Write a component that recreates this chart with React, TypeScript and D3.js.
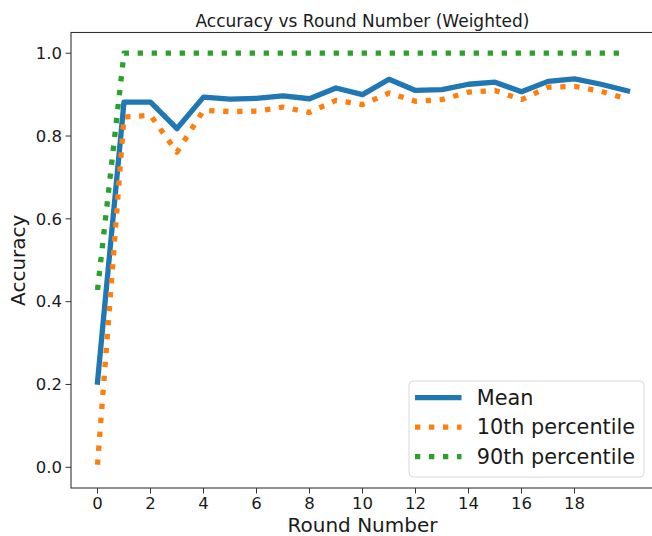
import React from "react";
import * as d3 from "d3";

const rounds = d3.range(0, 21);
const meanAcc = [0.206, 0.882, 0.882, 0.818, 0.894, 0.889, 0.891, 0.897, 0.89, 0.916, 0.9, 0.937, 0.91, 0.912, 0.925, 0.93, 0.907, 0.932, 0.938, 0.925, 0.909];
const p10Acc = [0.006, 0.846, 0.85, 0.761, 0.862, 0.859, 0.86, 0.87, 0.857, 0.886, 0.876, 0.904, 0.884, 0.888, 0.906, 0.91, 0.888, 0.918, 0.92, 0.908, 0.889];
const p90Acc = [0.428, 1, 1, 1, 1, 1, 1, 1, 1, 1, 1, 1, 1, 1, 1, 1, 1, 1, 1, 1, 1];
const xTicks = [0, 2, 4, 6, 8, 10, 12, 14, 16, 18];
const yTicks = [0, 0.2, 0.4, 0.6, 0.8, 1.0];

const series = [
  { name: "Mean", values: meanAcc, color: "#1f77b4", dash: null },
  { name: "10th percentile", values: p10Acc, color: "#ff7f0e", dash: "5.3 8.7" },
  { name: "90th percentile", values: p90Acc, color: "#2ca02c", dash: "5.3 8.7" },
];

const W = 652;
const H = 536;
const font = "DejaVu Sans, sans-serif";
const ink = "#1a1a1a";

export default function App() {
  // axes box; right spine falls just outside the picture
  const left = 71, right = 654, top = 32.5, bottom = 488;
  const x = d3.scaleLinear().domain([-1, 21]).range([left, right]);
  const y = d3.scaleLinear().domain([-0.05, 1.05]).range([bottom, top]);

  const line = d3.line<number>()
    .x((_, i) => x(rounds[i]))
    .y((d) => y(d));

  const lg = { x: 409, y: 381, w: 235, h: 96 };

  return (
    <svg width={W} height={H} style={{ position: "absolute", left: 0, top: 0, background: "#fff" }} fontFamily={font}>
      <text x={(left + right) / 2} y={26.5} textAnchor="middle" fontSize={17} fill={ink}>
        Accuracy vs Round Number (Weighted)
      </text>

      {/* data lines */}
      {series.map((s) => (
        <path key={s.name} d={line(s.values) || ""} fill="none" stroke={s.color}
          strokeWidth={5.3} strokeDasharray={s.dash || undefined}
          strokeLinejoin="round" strokeLinecap={s.dash ? "butt" : "square"} />
      ))}

      {/* spines */}
      <rect x={left} y={top} width={right - left} height={bottom - top} fill="none" stroke="#333" strokeWidth={1.1} />

      {/* x axis */}
      {xTicks.map((t) => (
        <g key={t} transform={`translate(${x(t)},${bottom})`}>
          <line y2={5.5} stroke="#333" strokeWidth={1} />
          <text y={21} textAnchor="middle" fontSize={16.5} fill={ink}>{t}</text>
        </g>
      ))}
      <text x={(left + right) / 2} y={532} textAnchor="middle" fontSize={20} fill={ink}>Round Number</text>

      {/* y axis */}
      {yTicks.map((t) => (
        <g key={t} transform={`translate(${left},${y(t)})`}>
          <line x2={-5.5} stroke="#333" strokeWidth={1} />
          <text x={-9} dy="0.35em" textAnchor="end" fontSize={16.5} fill={ink}>{t.toFixed(1)}</text>
        </g>
      ))}
      <text transform={`translate(25,${(top + bottom) / 2}) rotate(-90)`} textAnchor="middle" fontSize={20} fill={ink}>Accuracy</text>

      {/* legend */}
      <rect x={lg.x} y={lg.y} width={lg.w} height={lg.h} rx={4} fill="#fff" fillOpacity={0.8} stroke="#d9d9d9" strokeWidth={1} />
      {series.map((s, i) => {
        const cy = 397.7 + i * 29.5;
        return (
          <g key={s.name}>
            <line x1={415} x2={461.5} y1={cy} y2={cy} stroke={s.color} strokeWidth={5.3}
              strokeDasharray={s.dash || undefined} />
            <text x={476.7} y={cy} dy="0.35em" fontSize={20.8} fill={ink}>{s.name}</text>
          </g>
        );
      })}
    </svg>
  );
}
